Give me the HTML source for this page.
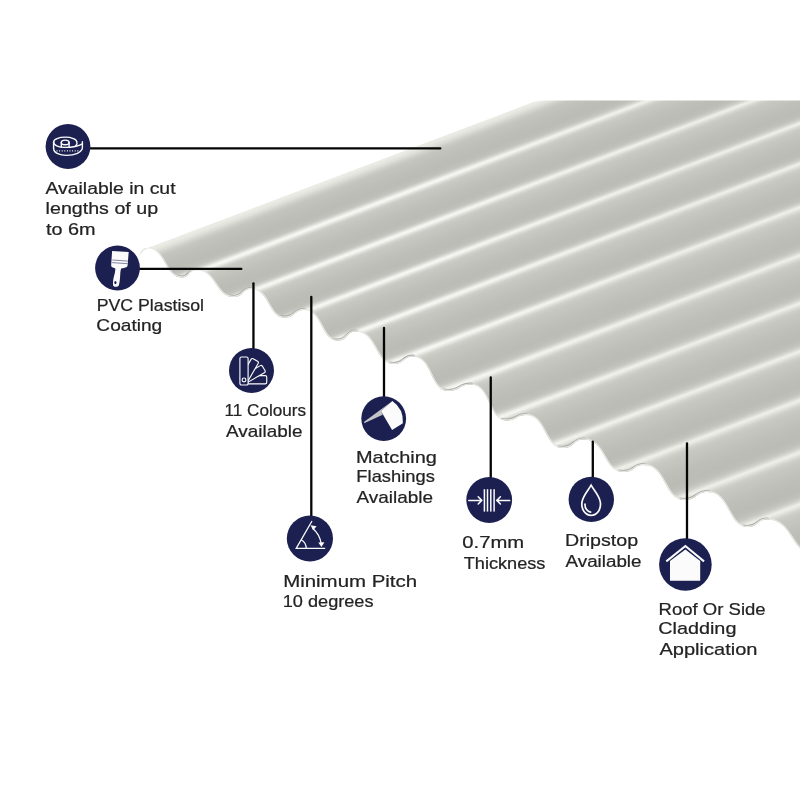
<!DOCTYPE html>
<html><head><meta charset="utf-8"><style>
html,body{margin:0;padding:0;background:#fff;}
body{width:800px;height:800px;position:relative;overflow:hidden;}
svg{position:absolute;left:0;top:0;}
</style></head><body>
<svg width="800" height="800" viewBox="0 0 800 800">
<defs>
<linearGradient id="stripes" gradientUnits="userSpaceOnUse" x1="0" y1="0" x2="398.46" y2="1048.58">
<stop offset="0.2458" stop-color="rgb(236,237,230)"/><stop offset="0.2533" stop-color="rgb(236,237,230)"/><stop offset="0.2537" stop-color="rgb(236,236,230)"/><stop offset="0.2542" stop-color="rgb(235,236,229)"/><stop offset="0.2546" stop-color="rgb(234,236,228)"/><stop offset="0.2550" stop-color="rgb(234,235,228)"/><stop offset="0.2554" stop-color="rgb(234,234,228)"/><stop offset="0.2558" stop-color="rgb(233,234,227)"/><stop offset="0.2562" stop-color="rgb(232,232,226)"/><stop offset="0.2567" stop-color="rgb(230,231,224)"/><stop offset="0.2571" stop-color="rgb(228,230,222)"/><stop offset="0.2575" stop-color="rgb(227,228,221)"/><stop offset="0.2579" stop-color="rgb(226,226,220)"/><stop offset="0.2583" stop-color="rgb(224,225,218)"/><stop offset="0.2587" stop-color="rgb(222,223,216)"/><stop offset="0.2592" stop-color="rgb(219,220,213)"/><stop offset="0.2596" stop-color="rgb(217,218,211)"/><stop offset="0.2600" stop-color="rgb(215,216,209)"/><stop offset="0.2604" stop-color="rgb(212,213,206)"/><stop offset="0.2608" stop-color="rgb(210,211,204)"/><stop offset="0.2612" stop-color="rgb(208,209,202)"/><stop offset="0.2617" stop-color="rgb(206,207,200)"/><stop offset="0.2621" stop-color="rgb(204,206,198)"/><stop offset="0.2625" stop-color="rgb(203,204,197)"/><stop offset="0.2629" stop-color="rgb(201,202,195)"/><stop offset="0.2633" stop-color="rgb(199,200,193)"/><stop offset="0.2637" stop-color="rgb(198,199,192)"/><stop offset="0.2642" stop-color="rgb(197,198,191)"/><stop offset="0.2646" stop-color="rgb(196,198,190)"/><stop offset="0.2650" stop-color="rgb(196,197,190)"/><stop offset="0.2654" stop-color="rgb(195,196,189)"/><stop offset="0.2658" stop-color="rgb(194,195,188)"/><stop offset="0.2671" stop-color="rgb(194,195,188)"/><stop offset="0.2675" stop-color="rgb(193,194,187)"/><stop offset="0.2679" stop-color="rgb(193,194,187)"/><stop offset="0.2683" stop-color="rgb(192,193,186)"/><stop offset="0.2692" stop-color="rgb(192,193,186)"/><stop offset="0.2696" stop-color="rgb(191,192,185)"/><stop offset="0.2704" stop-color="rgb(191,192,185)"/><stop offset="0.2708" stop-color="rgb(190,191,184)"/><stop offset="0.2721" stop-color="rgb(190,191,184)"/><stop offset="0.2725" stop-color="rgb(189,190,183)"/><stop offset="0.2737" stop-color="rgb(189,190,183)"/><stop offset="0.2742" stop-color="rgb(188,189,182)"/><stop offset="0.2767" stop-color="rgb(188,189,182)"/><stop offset="0.2771" stop-color="rgb(187,188,181)"/><stop offset="0.2796" stop-color="rgb(187,188,181)"/><stop offset="0.2800" stop-color="rgb(188,189,182)"/><stop offset="0.2808" stop-color="rgb(188,189,182)"/><stop offset="0.2812" stop-color="rgb(189,190,183)"/><stop offset="0.2817" stop-color="rgb(189,190,183)"/><stop offset="0.2821" stop-color="rgb(190,191,184)"/><stop offset="0.2825" stop-color="rgb(191,192,185)"/><stop offset="0.2829" stop-color="rgb(192,193,186)"/><stop offset="0.2833" stop-color="rgb(193,194,187)"/><stop offset="0.2838" stop-color="rgb(194,195,188)"/><stop offset="0.2842" stop-color="rgb(195,196,189)"/><stop offset="0.2846" stop-color="rgb(197,198,191)"/><stop offset="0.2850" stop-color="rgb(200,201,194)"/><stop offset="0.2854" stop-color="rgb(202,203,196)"/><stop offset="0.2858" stop-color="rgb(206,207,200)"/><stop offset="0.2863" stop-color="rgb(209,210,203)"/><stop offset="0.2867" stop-color="rgb(213,214,207)"/><stop offset="0.2871" stop-color="rgb(218,219,212)"/><stop offset="0.2875" stop-color="rgb(223,224,217)"/><stop offset="0.2879" stop-color="rgb(228,229,222)"/><stop offset="0.2883" stop-color="rgb(233,234,227)"/><stop offset="0.2888" stop-color="rgb(238,239,232)"/><stop offset="0.2892" stop-color="rgb(236,237,230)"/><stop offset="0.2896" stop-color="rgb(234,235,228)"/><stop offset="0.2900" stop-color="rgb(231,232,225)"/><stop offset="0.2904" stop-color="rgb(227,228,221)"/><stop offset="0.2908" stop-color="rgb(223,224,217)"/><stop offset="0.2913" stop-color="rgb(220,220,214)"/><stop offset="0.2917" stop-color="rgb(216,217,210)"/><stop offset="0.2921" stop-color="rgb(212,213,206)"/><stop offset="0.2925" stop-color="rgb(210,211,204)"/><stop offset="0.2929" stop-color="rgb(208,208,202)"/><stop offset="0.2933" stop-color="rgb(205,206,199)"/><stop offset="0.2938" stop-color="rgb(203,204,197)"/><stop offset="0.2942" stop-color="rgb(202,203,196)"/><stop offset="0.2946" stop-color="rgb(201,202,195)"/><stop offset="0.2950" stop-color="rgb(200,201,194)"/><stop offset="0.2954" stop-color="rgb(199,200,193)"/><stop offset="0.2958" stop-color="rgb(199,200,193)"/><stop offset="0.2963" stop-color="rgb(198,199,192)"/><stop offset="0.2967" stop-color="rgb(198,199,192)"/><stop offset="0.2971" stop-color="rgb(197,198,191)"/><stop offset="0.2975" stop-color="rgb(197,198,191)"/><stop offset="0.2979" stop-color="rgb(196,198,190)"/><stop offset="0.2983" stop-color="rgb(196,197,190)"/><stop offset="0.2988" stop-color="rgb(196,197,190)"/><stop offset="0.2992" stop-color="rgb(195,196,189)"/><stop offset="0.3000" stop-color="rgb(195,196,189)"/><stop offset="0.3004" stop-color="rgb(194,195,188)"/><stop offset="0.3008" stop-color="rgb(194,195,188)"/><stop offset="0.3013" stop-color="rgb(194,194,188)"/><stop offset="0.3017" stop-color="rgb(193,194,187)"/><stop offset="0.3021" stop-color="rgb(193,194,187)"/><stop offset="0.3025" stop-color="rgb(192,193,186)"/><stop offset="0.3029" stop-color="rgb(192,193,186)"/><stop offset="0.3033" stop-color="rgb(191,192,185)"/><stop offset="0.3042" stop-color="rgb(191,192,185)"/><stop offset="0.3046" stop-color="rgb(190,192,184)"/><stop offset="0.3050" stop-color="rgb(190,191,184)"/><stop offset="0.3058" stop-color="rgb(190,191,184)"/><stop offset="0.3063" stop-color="rgb(190,190,184)"/><stop offset="0.3067" stop-color="rgb(189,190,183)"/><stop offset="0.3075" stop-color="rgb(189,190,183)"/><stop offset="0.3079" stop-color="rgb(188,190,182)"/><stop offset="0.3083" stop-color="rgb(188,189,182)"/><stop offset="0.3104" stop-color="rgb(188,189,182)"/><stop offset="0.3108" stop-color="rgb(187,188,181)"/><stop offset="0.3133" stop-color="rgb(187,188,181)"/><stop offset="0.3137" stop-color="rgb(188,189,182)"/><stop offset="0.3146" stop-color="rgb(188,189,182)"/><stop offset="0.3150" stop-color="rgb(189,190,183)"/><stop offset="0.3154" stop-color="rgb(189,190,183)"/><stop offset="0.3158" stop-color="rgb(190,191,184)"/><stop offset="0.3162" stop-color="rgb(191,192,185)"/><stop offset="0.3167" stop-color="rgb(192,193,186)"/><stop offset="0.3171" stop-color="rgb(193,194,187)"/><stop offset="0.3175" stop-color="rgb(194,195,188)"/><stop offset="0.3179" stop-color="rgb(197,198,191)"/><stop offset="0.3183" stop-color="rgb(199,200,193)"/><stop offset="0.3187" stop-color="rgb(201,202,195)"/><stop offset="0.3192" stop-color="rgb(205,206,199)"/><stop offset="0.3196" stop-color="rgb(209,210,203)"/><stop offset="0.3200" stop-color="rgb(212,213,206)"/><stop offset="0.3204" stop-color="rgb(217,218,211)"/><stop offset="0.3208" stop-color="rgb(223,224,217)"/><stop offset="0.3212" stop-color="rgb(228,229,222)"/><stop offset="0.3217" stop-color="rgb(233,234,227)"/><stop offset="0.3221" stop-color="rgb(238,239,232)"/><stop offset="0.3225" stop-color="rgb(236,237,230)"/><stop offset="0.3229" stop-color="rgb(234,235,228)"/><stop offset="0.3233" stop-color="rgb(231,232,225)"/><stop offset="0.3237" stop-color="rgb(227,228,221)"/><stop offset="0.3242" stop-color="rgb(223,224,217)"/><stop offset="0.3246" stop-color="rgb(220,221,214)"/><stop offset="0.3250" stop-color="rgb(216,217,210)"/><stop offset="0.3254" stop-color="rgb(212,213,206)"/><stop offset="0.3258" stop-color="rgb(210,211,204)"/><stop offset="0.3262" stop-color="rgb(208,209,202)"/><stop offset="0.3267" stop-color="rgb(206,207,200)"/><stop offset="0.3271" stop-color="rgb(203,204,197)"/><stop offset="0.3275" stop-color="rgb(202,203,196)"/><stop offset="0.3279" stop-color="rgb(201,202,195)"/><stop offset="0.3283" stop-color="rgb(200,201,194)"/><stop offset="0.3287" stop-color="rgb(200,201,194)"/><stop offset="0.3292" stop-color="rgb(199,200,193)"/><stop offset="0.3296" stop-color="rgb(198,199,192)"/><stop offset="0.3300" stop-color="rgb(198,199,192)"/><stop offset="0.3304" stop-color="rgb(197,198,191)"/><stop offset="0.3312" stop-color="rgb(197,198,191)"/><stop offset="0.3317" stop-color="rgb(196,197,190)"/><stop offset="0.3325" stop-color="rgb(196,197,190)"/><stop offset="0.3329" stop-color="rgb(195,196,189)"/><stop offset="0.3333" stop-color="rgb(195,196,189)"/><stop offset="0.3337" stop-color="rgb(194,195,188)"/><stop offset="0.3346" stop-color="rgb(194,195,188)"/><stop offset="0.3350" stop-color="rgb(193,194,187)"/><stop offset="0.3354" stop-color="rgb(193,194,187)"/><stop offset="0.3358" stop-color="rgb(192,193,186)"/><stop offset="0.3367" stop-color="rgb(192,193,186)"/><stop offset="0.3371" stop-color="rgb(191,192,185)"/><stop offset="0.3379" stop-color="rgb(191,192,185)"/><stop offset="0.3383" stop-color="rgb(190,191,184)"/><stop offset="0.3396" stop-color="rgb(190,191,184)"/><stop offset="0.3400" stop-color="rgb(189,190,183)"/><stop offset="0.3412" stop-color="rgb(189,190,183)"/><stop offset="0.3417" stop-color="rgb(188,189,182)"/><stop offset="0.3442" stop-color="rgb(188,189,182)"/><stop offset="0.3446" stop-color="rgb(187,188,181)"/><stop offset="0.3467" stop-color="rgb(187,188,181)"/><stop offset="0.3471" stop-color="rgb(188,189,182)"/><stop offset="0.3483" stop-color="rgb(188,189,182)"/><stop offset="0.3488" stop-color="rgb(189,190,183)"/><stop offset="0.3492" stop-color="rgb(189,190,183)"/><stop offset="0.3496" stop-color="rgb(190,191,184)"/><stop offset="0.3500" stop-color="rgb(191,192,185)"/><stop offset="0.3504" stop-color="rgb(192,193,186)"/><stop offset="0.3508" stop-color="rgb(193,194,187)"/><stop offset="0.3513" stop-color="rgb(195,196,189)"/><stop offset="0.3517" stop-color="rgb(197,198,191)"/><stop offset="0.3521" stop-color="rgb(199,200,193)"/><stop offset="0.3525" stop-color="rgb(201,202,195)"/><stop offset="0.3529" stop-color="rgb(205,206,199)"/><stop offset="0.3533" stop-color="rgb(209,210,203)"/><stop offset="0.3538" stop-color="rgb(212,213,206)"/><stop offset="0.3542" stop-color="rgb(218,219,212)"/><stop offset="0.3546" stop-color="rgb(223,224,217)"/><stop offset="0.3550" stop-color="rgb(228,229,222)"/><stop offset="0.3554" stop-color="rgb(233,234,227)"/><stop offset="0.3558" stop-color="rgb(238,239,232)"/><stop offset="0.3563" stop-color="rgb(236,237,230)"/><stop offset="0.3567" stop-color="rgb(234,235,228)"/><stop offset="0.3571" stop-color="rgb(231,232,225)"/><stop offset="0.3575" stop-color="rgb(227,228,221)"/><stop offset="0.3579" stop-color="rgb(223,224,217)"/><stop offset="0.3583" stop-color="rgb(220,221,214)"/><stop offset="0.3588" stop-color="rgb(216,217,210)"/><stop offset="0.3592" stop-color="rgb(212,213,206)"/><stop offset="0.3596" stop-color="rgb(210,211,204)"/><stop offset="0.3600" stop-color="rgb(208,209,202)"/><stop offset="0.3604" stop-color="rgb(206,207,200)"/><stop offset="0.3608" stop-color="rgb(203,204,197)"/><stop offset="0.3613" stop-color="rgb(202,203,196)"/><stop offset="0.3617" stop-color="rgb(201,202,195)"/><stop offset="0.3621" stop-color="rgb(200,201,194)"/><stop offset="0.3625" stop-color="rgb(200,201,194)"/><stop offset="0.3629" stop-color="rgb(199,200,193)"/><stop offset="0.3633" stop-color="rgb(198,199,192)"/><stop offset="0.3638" stop-color="rgb(198,199,192)"/><stop offset="0.3642" stop-color="rgb(197,198,191)"/><stop offset="0.3650" stop-color="rgb(197,198,191)"/><stop offset="0.3654" stop-color="rgb(196,197,190)"/><stop offset="0.3663" stop-color="rgb(196,197,190)"/><stop offset="0.3667" stop-color="rgb(195,196,189)"/><stop offset="0.3671" stop-color="rgb(195,196,189)"/><stop offset="0.3675" stop-color="rgb(194,195,188)"/><stop offset="0.3683" stop-color="rgb(194,195,188)"/><stop offset="0.3688" stop-color="rgb(193,194,187)"/><stop offset="0.3692" stop-color="rgb(193,194,187)"/><stop offset="0.3696" stop-color="rgb(192,193,186)"/><stop offset="0.3704" stop-color="rgb(192,193,186)"/><stop offset="0.3708" stop-color="rgb(191,192,185)"/><stop offset="0.3717" stop-color="rgb(191,192,185)"/><stop offset="0.3721" stop-color="rgb(190,191,184)"/><stop offset="0.3733" stop-color="rgb(190,191,184)"/><stop offset="0.3738" stop-color="rgb(189,190,183)"/><stop offset="0.3750" stop-color="rgb(189,190,183)"/><stop offset="0.3754" stop-color="rgb(188,189,182)"/><stop offset="0.3779" stop-color="rgb(188,189,182)"/><stop offset="0.3783" stop-color="rgb(187,188,181)"/><stop offset="0.3804" stop-color="rgb(187,188,181)"/><stop offset="0.3808" stop-color="rgb(188,189,182)"/><stop offset="0.3821" stop-color="rgb(188,189,182)"/><stop offset="0.3825" stop-color="rgb(189,190,183)"/><stop offset="0.3829" stop-color="rgb(189,190,183)"/><stop offset="0.3833" stop-color="rgb(190,191,184)"/><stop offset="0.3837" stop-color="rgb(191,192,185)"/><stop offset="0.3842" stop-color="rgb(192,193,186)"/><stop offset="0.3846" stop-color="rgb(193,194,187)"/><stop offset="0.3850" stop-color="rgb(195,196,189)"/><stop offset="0.3854" stop-color="rgb(197,198,191)"/><stop offset="0.3858" stop-color="rgb(199,200,193)"/><stop offset="0.3862" stop-color="rgb(201,202,195)"/><stop offset="0.3867" stop-color="rgb(205,206,199)"/><stop offset="0.3871" stop-color="rgb(209,210,203)"/><stop offset="0.3875" stop-color="rgb(212,213,206)"/><stop offset="0.3879" stop-color="rgb(218,219,212)"/><stop offset="0.3883" stop-color="rgb(223,224,217)"/><stop offset="0.3887" stop-color="rgb(228,229,222)"/><stop offset="0.3892" stop-color="rgb(233,234,227)"/><stop offset="0.3896" stop-color="rgb(238,239,232)"/><stop offset="0.3900" stop-color="rgb(236,237,230)"/><stop offset="0.3904" stop-color="rgb(234,235,228)"/><stop offset="0.3908" stop-color="rgb(232,233,226)"/><stop offset="0.3912" stop-color="rgb(228,229,222)"/><stop offset="0.3917" stop-color="rgb(225,226,219)"/><stop offset="0.3921" stop-color="rgb(221,222,215)"/><stop offset="0.3925" stop-color="rgb(218,219,212)"/><stop offset="0.3929" stop-color="rgb(214,215,208)"/><stop offset="0.3933" stop-color="rgb(211,212,205)"/><stop offset="0.3937" stop-color="rgb(209,210,203)"/><stop offset="0.3942" stop-color="rgb(207,208,201)"/><stop offset="0.3946" stop-color="rgb(205,206,199)"/><stop offset="0.3950" stop-color="rgb(203,204,197)"/><stop offset="0.3954" stop-color="rgb(202,203,196)"/><stop offset="0.3958" stop-color="rgb(201,202,195)"/><stop offset="0.3962" stop-color="rgb(201,202,195)"/><stop offset="0.3967" stop-color="rgb(200,201,194)"/><stop offset="0.3971" stop-color="rgb(199,200,193)"/><stop offset="0.3975" stop-color="rgb(198,199,192)"/><stop offset="0.3979" stop-color="rgb(198,199,192)"/><stop offset="0.3983" stop-color="rgb(197,198,191)"/><stop offset="0.3992" stop-color="rgb(197,198,191)"/><stop offset="0.3996" stop-color="rgb(196,197,190)"/><stop offset="0.4008" stop-color="rgb(196,197,190)"/><stop offset="0.4012" stop-color="rgb(195,196,189)"/><stop offset="0.4021" stop-color="rgb(195,196,189)"/><stop offset="0.4025" stop-color="rgb(194,195,188)"/><stop offset="0.4029" stop-color="rgb(194,195,188)"/><stop offset="0.4033" stop-color="rgb(193,194,187)"/><stop offset="0.4042" stop-color="rgb(193,194,187)"/><stop offset="0.4046" stop-color="rgb(192,193,186)"/><stop offset="0.4050" stop-color="rgb(192,193,186)"/><stop offset="0.4054" stop-color="rgb(191,192,185)"/><stop offset="0.4067" stop-color="rgb(191,192,185)"/><stop offset="0.4071" stop-color="rgb(190,191,184)"/><stop offset="0.4083" stop-color="rgb(190,191,184)"/><stop offset="0.4088" stop-color="rgb(189,190,183)"/><stop offset="0.4104" stop-color="rgb(189,190,183)"/><stop offset="0.4108" stop-color="rgb(188,189,182)"/><stop offset="0.4133" stop-color="rgb(188,189,182)"/><stop offset="0.4138" stop-color="rgb(187,188,181)"/><stop offset="0.4163" stop-color="rgb(187,188,181)"/><stop offset="0.4167" stop-color="rgb(188,189,182)"/><stop offset="0.4175" stop-color="rgb(188,189,182)"/><stop offset="0.4179" stop-color="rgb(189,190,183)"/><stop offset="0.4188" stop-color="rgb(189,190,183)"/><stop offset="0.4192" stop-color="rgb(190,191,184)"/><stop offset="0.4196" stop-color="rgb(191,192,185)"/><stop offset="0.4200" stop-color="rgb(192,193,186)"/><stop offset="0.4204" stop-color="rgb(193,194,187)"/><stop offset="0.4208" stop-color="rgb(194,195,188)"/><stop offset="0.4213" stop-color="rgb(196,197,190)"/><stop offset="0.4217" stop-color="rgb(198,199,192)"/><stop offset="0.4221" stop-color="rgb(200,201,194)"/><stop offset="0.4225" stop-color="rgb(203,204,197)"/><stop offset="0.4229" stop-color="rgb(207,208,201)"/><stop offset="0.4233" stop-color="rgb(210,211,204)"/><stop offset="0.4238" stop-color="rgb(214,215,208)"/><stop offset="0.4242" stop-color="rgb(219,220,213)"/><stop offset="0.4246" stop-color="rgb(224,225,218)"/><stop offset="0.4250" stop-color="rgb(229,230,223)"/><stop offset="0.4254" stop-color="rgb(233,234,227)"/><stop offset="0.4258" stop-color="rgb(238,239,232)"/><stop offset="0.4263" stop-color="rgb(236,237,230)"/><stop offset="0.4267" stop-color="rgb(235,236,229)"/><stop offset="0.4271" stop-color="rgb(233,234,227)"/><stop offset="0.4275" stop-color="rgb(230,230,224)"/><stop offset="0.4279" stop-color="rgb(226,227,220)"/><stop offset="0.4283" stop-color="rgb(223,224,217)"/><stop offset="0.4288" stop-color="rgb(220,221,214)"/><stop offset="0.4292" stop-color="rgb(217,218,211)"/><stop offset="0.4296" stop-color="rgb(214,215,208)"/><stop offset="0.4300" stop-color="rgb(211,212,205)"/><stop offset="0.4304" stop-color="rgb(209,210,203)"/><stop offset="0.4308" stop-color="rgb(208,208,202)"/><stop offset="0.4313" stop-color="rgb(206,207,200)"/><stop offset="0.4317" stop-color="rgb(204,205,198)"/><stop offset="0.4321" stop-color="rgb(203,204,197)"/><stop offset="0.4325" stop-color="rgb(202,203,196)"/><stop offset="0.4329" stop-color="rgb(201,202,195)"/><stop offset="0.4333" stop-color="rgb(200,201,194)"/><stop offset="0.4338" stop-color="rgb(200,201,194)"/><stop offset="0.4342" stop-color="rgb(199,200,193)"/><stop offset="0.4346" stop-color="rgb(198,199,192)"/><stop offset="0.4350" stop-color="rgb(198,199,192)"/><stop offset="0.4354" stop-color="rgb(197,198,191)"/><stop offset="0.4367" stop-color="rgb(197,198,191)"/><stop offset="0.4371" stop-color="rgb(196,197,190)"/><stop offset="0.4379" stop-color="rgb(196,197,190)"/><stop offset="0.4383" stop-color="rgb(195,196,189)"/><stop offset="0.4396" stop-color="rgb(195,196,189)"/><stop offset="0.4400" stop-color="rgb(194,195,188)"/><stop offset="0.4404" stop-color="rgb(194,195,188)"/><stop offset="0.4408" stop-color="rgb(194,194,188)"/><stop offset="0.4412" stop-color="rgb(193,194,187)"/><stop offset="0.4417" stop-color="rgb(193,194,187)"/><stop offset="0.4421" stop-color="rgb(192,193,186)"/><stop offset="0.4429" stop-color="rgb(192,193,186)"/><stop offset="0.4433" stop-color="rgb(191,192,185)"/><stop offset="0.4446" stop-color="rgb(191,192,185)"/><stop offset="0.4450" stop-color="rgb(190,191,184)"/><stop offset="0.4467" stop-color="rgb(190,191,184)"/><stop offset="0.4471" stop-color="rgb(189,190,183)"/><stop offset="0.4487" stop-color="rgb(189,190,183)"/><stop offset="0.4492" stop-color="rgb(188,189,182)"/><stop offset="0.4521" stop-color="rgb(188,189,182)"/><stop offset="0.4525" stop-color="rgb(187,188,181)"/><stop offset="0.4554" stop-color="rgb(187,188,181)"/><stop offset="0.4558" stop-color="rgb(188,189,182)"/><stop offset="0.4567" stop-color="rgb(188,189,182)"/><stop offset="0.4571" stop-color="rgb(189,190,183)"/><stop offset="0.4579" stop-color="rgb(189,190,183)"/><stop offset="0.4583" stop-color="rgb(190,191,184)"/><stop offset="0.4587" stop-color="rgb(191,192,185)"/><stop offset="0.4592" stop-color="rgb(192,193,186)"/><stop offset="0.4596" stop-color="rgb(193,194,187)"/><stop offset="0.4600" stop-color="rgb(194,195,188)"/><stop offset="0.4604" stop-color="rgb(195,196,189)"/><stop offset="0.4608" stop-color="rgb(197,198,191)"/><stop offset="0.4612" stop-color="rgb(198,199,192)"/><stop offset="0.4617" stop-color="rgb(200,201,194)"/><stop offset="0.4621" stop-color="rgb(203,204,197)"/><stop offset="0.4625" stop-color="rgb(206,207,200)"/><stop offset="0.4629" stop-color="rgb(209,210,203)"/><stop offset="0.4633" stop-color="rgb(212,213,206)"/><stop offset="0.4637" stop-color="rgb(216,217,210)"/><stop offset="0.4642" stop-color="rgb(221,222,215)"/><stop offset="0.4646" stop-color="rgb(225,226,219)"/><stop offset="0.4650" stop-color="rgb(230,231,224)"/><stop offset="0.4654" stop-color="rgb(234,235,228)"/><stop offset="0.4658" stop-color="rgb(238,239,232)"/><stop offset="0.4662" stop-color="rgb(236,237,230)"/><stop offset="0.4667" stop-color="rgb(235,236,229)"/><stop offset="0.4671" stop-color="rgb(233,234,227)"/><stop offset="0.4675" stop-color="rgb(230,230,224)"/><stop offset="0.4679" stop-color="rgb(226,227,220)"/><stop offset="0.4683" stop-color="rgb(223,224,217)"/><stop offset="0.4688" stop-color="rgb(220,221,214)"/><stop offset="0.4692" stop-color="rgb(217,218,211)"/><stop offset="0.4696" stop-color="rgb(214,215,208)"/><stop offset="0.4700" stop-color="rgb(211,212,205)"/><stop offset="0.4704" stop-color="rgb(209,210,203)"/><stop offset="0.4708" stop-color="rgb(208,208,202)"/><stop offset="0.4713" stop-color="rgb(206,207,200)"/><stop offset="0.4717" stop-color="rgb(204,205,198)"/><stop offset="0.4721" stop-color="rgb(203,204,197)"/><stop offset="0.4725" stop-color="rgb(202,203,196)"/><stop offset="0.4729" stop-color="rgb(201,202,195)"/><stop offset="0.4733" stop-color="rgb(200,201,194)"/><stop offset="0.4738" stop-color="rgb(200,201,194)"/><stop offset="0.4742" stop-color="rgb(199,200,193)"/><stop offset="0.4746" stop-color="rgb(198,199,192)"/><stop offset="0.4750" stop-color="rgb(198,199,192)"/><stop offset="0.4754" stop-color="rgb(197,198,191)"/><stop offset="0.4767" stop-color="rgb(197,198,191)"/><stop offset="0.4771" stop-color="rgb(196,197,190)"/><stop offset="0.4779" stop-color="rgb(196,197,190)"/><stop offset="0.4783" stop-color="rgb(195,196,189)"/><stop offset="0.4796" stop-color="rgb(195,196,189)"/><stop offset="0.4800" stop-color="rgb(194,195,188)"/><stop offset="0.4804" stop-color="rgb(194,195,188)"/><stop offset="0.4808" stop-color="rgb(194,194,188)"/><stop offset="0.4813" stop-color="rgb(193,194,187)"/><stop offset="0.4817" stop-color="rgb(193,194,187)"/><stop offset="0.4821" stop-color="rgb(192,193,186)"/><stop offset="0.4829" stop-color="rgb(192,193,186)"/><stop offset="0.4833" stop-color="rgb(191,192,185)"/><stop offset="0.4846" stop-color="rgb(191,192,185)"/><stop offset="0.4850" stop-color="rgb(190,191,184)"/><stop offset="0.4867" stop-color="rgb(190,191,184)"/><stop offset="0.4871" stop-color="rgb(189,190,183)"/><stop offset="0.4888" stop-color="rgb(189,190,183)"/><stop offset="0.4892" stop-color="rgb(188,189,182)"/><stop offset="0.4921" stop-color="rgb(188,189,182)"/><stop offset="0.4925" stop-color="rgb(187,188,181)"/><stop offset="0.4954" stop-color="rgb(187,188,181)"/><stop offset="0.4958" stop-color="rgb(188,189,182)"/><stop offset="0.4967" stop-color="rgb(188,189,182)"/><stop offset="0.4971" stop-color="rgb(189,190,183)"/><stop offset="0.4979" stop-color="rgb(189,190,183)"/><stop offset="0.4983" stop-color="rgb(190,191,184)"/><stop offset="0.4988" stop-color="rgb(191,192,185)"/><stop offset="0.4992" stop-color="rgb(192,193,186)"/><stop offset="0.4996" stop-color="rgb(193,194,187)"/><stop offset="0.5000" stop-color="rgb(194,195,188)"/><stop offset="0.5004" stop-color="rgb(195,196,189)"/><stop offset="0.5008" stop-color="rgb(197,198,191)"/><stop offset="0.5012" stop-color="rgb(198,199,192)"/><stop offset="0.5017" stop-color="rgb(200,201,194)"/><stop offset="0.5021" stop-color="rgb(203,204,197)"/><stop offset="0.5025" stop-color="rgb(206,207,200)"/><stop offset="0.5029" stop-color="rgb(209,210,203)"/><stop offset="0.5033" stop-color="rgb(212,213,206)"/><stop offset="0.5038" stop-color="rgb(216,217,210)"/><stop offset="0.5042" stop-color="rgb(221,222,215)"/><stop offset="0.5046" stop-color="rgb(225,226,219)"/><stop offset="0.5050" stop-color="rgb(230,231,224)"/><stop offset="0.5054" stop-color="rgb(234,235,228)"/><stop offset="0.5058" stop-color="rgb(238,239,232)"/><stop offset="0.5062" stop-color="rgb(236,237,230)"/><stop offset="0.5067" stop-color="rgb(235,236,229)"/><stop offset="0.5071" stop-color="rgb(233,234,227)"/><stop offset="0.5075" stop-color="rgb(230,230,224)"/><stop offset="0.5079" stop-color="rgb(226,227,220)"/><stop offset="0.5083" stop-color="rgb(223,224,217)"/><stop offset="0.5088" stop-color="rgb(220,221,214)"/><stop offset="0.5092" stop-color="rgb(217,218,211)"/><stop offset="0.5096" stop-color="rgb(214,215,208)"/><stop offset="0.5100" stop-color="rgb(211,212,205)"/><stop offset="0.5104" stop-color="rgb(209,210,203)"/><stop offset="0.5108" stop-color="rgb(208,208,202)"/><stop offset="0.5112" stop-color="rgb(206,207,200)"/><stop offset="0.5117" stop-color="rgb(204,205,198)"/><stop offset="0.5121" stop-color="rgb(203,204,197)"/><stop offset="0.5125" stop-color="rgb(202,203,196)"/><stop offset="0.5129" stop-color="rgb(201,202,195)"/><stop offset="0.5133" stop-color="rgb(200,201,194)"/><stop offset="0.5138" stop-color="rgb(200,201,194)"/><stop offset="0.5142" stop-color="rgb(199,200,193)"/><stop offset="0.5146" stop-color="rgb(198,199,192)"/><stop offset="0.5150" stop-color="rgb(198,199,192)"/><stop offset="0.5154" stop-color="rgb(197,198,191)"/><stop offset="0.5167" stop-color="rgb(197,198,191)"/><stop offset="0.5171" stop-color="rgb(196,197,190)"/><stop offset="0.5179" stop-color="rgb(196,197,190)"/><stop offset="0.5183" stop-color="rgb(195,196,189)"/><stop offset="0.5196" stop-color="rgb(195,196,189)"/><stop offset="0.5200" stop-color="rgb(194,195,188)"/><stop offset="0.5204" stop-color="rgb(194,195,188)"/><stop offset="0.5208" stop-color="rgb(194,194,188)"/><stop offset="0.5212" stop-color="rgb(193,194,187)"/><stop offset="0.5217" stop-color="rgb(193,194,187)"/><stop offset="0.5221" stop-color="rgb(192,193,186)"/><stop offset="0.5229" stop-color="rgb(192,193,186)"/><stop offset="0.5233" stop-color="rgb(191,192,185)"/><stop offset="0.5246" stop-color="rgb(191,192,185)"/><stop offset="0.5250" stop-color="rgb(190,191,184)"/><stop offset="0.5267" stop-color="rgb(190,191,184)"/><stop offset="0.5271" stop-color="rgb(189,190,183)"/><stop offset="0.5288" stop-color="rgb(189,190,183)"/><stop offset="0.5292" stop-color="rgb(188,189,182)"/><stop offset="0.5321" stop-color="rgb(188,189,182)"/><stop offset="0.5325" stop-color="rgb(187,188,181)"/><stop offset="0.5354" stop-color="rgb(187,188,181)"/><stop offset="0.5358" stop-color="rgb(188,189,182)"/><stop offset="0.5367" stop-color="rgb(188,189,182)"/><stop offset="0.5371" stop-color="rgb(189,190,183)"/><stop offset="0.5379" stop-color="rgb(189,190,183)"/><stop offset="0.5383" stop-color="rgb(190,191,184)"/><stop offset="0.5387" stop-color="rgb(191,192,185)"/><stop offset="0.5392" stop-color="rgb(192,193,186)"/><stop offset="0.5396" stop-color="rgb(193,194,187)"/><stop offset="0.5400" stop-color="rgb(194,195,188)"/><stop offset="0.5404" stop-color="rgb(195,196,189)"/><stop offset="0.5408" stop-color="rgb(197,198,191)"/><stop offset="0.5413" stop-color="rgb(198,199,192)"/><stop offset="0.5417" stop-color="rgb(200,201,194)"/><stop offset="0.5421" stop-color="rgb(203,204,197)"/><stop offset="0.5425" stop-color="rgb(206,207,200)"/><stop offset="0.5429" stop-color="rgb(209,210,203)"/><stop offset="0.5433" stop-color="rgb(212,213,206)"/><stop offset="0.5437" stop-color="rgb(216,217,210)"/><stop offset="0.5442" stop-color="rgb(221,222,215)"/><stop offset="0.5446" stop-color="rgb(225,226,219)"/><stop offset="0.5450" stop-color="rgb(230,231,224)"/><stop offset="0.5454" stop-color="rgb(234,235,228)"/><stop offset="0.5458" stop-color="rgb(238,239,232)"/><stop offset="0.5463" stop-color="rgb(236,237,230)"/><stop offset="0.5467" stop-color="rgb(235,236,229)"/><stop offset="0.5471" stop-color="rgb(233,234,227)"/><stop offset="0.5475" stop-color="rgb(230,231,224)"/><stop offset="0.5479" stop-color="rgb(227,228,221)"/><stop offset="0.5483" stop-color="rgb(224,225,218)"/><stop offset="0.5487" stop-color="rgb(221,222,215)"/><stop offset="0.5492" stop-color="rgb(218,219,212)"/><stop offset="0.5496" stop-color="rgb(214,215,208)"/><stop offset="0.5500" stop-color="rgb(212,213,206)"/><stop offset="0.5504" stop-color="rgb(210,211,204)"/><stop offset="0.5508" stop-color="rgb(208,209,202)"/><stop offset="0.5513" stop-color="rgb(206,207,200)"/><stop offset="0.5517" stop-color="rgb(204,205,198)"/><stop offset="0.5521" stop-color="rgb(203,204,197)"/><stop offset="0.5525" stop-color="rgb(202,203,196)"/><stop offset="0.5529" stop-color="rgb(201,202,195)"/><stop offset="0.5533" stop-color="rgb(201,202,195)"/><stop offset="0.5537" stop-color="rgb(200,201,194)"/><stop offset="0.5542" stop-color="rgb(199,200,193)"/><stop offset="0.5546" stop-color="rgb(198,199,192)"/><stop offset="0.5554" stop-color="rgb(198,199,192)"/><stop offset="0.5558" stop-color="rgb(197,198,191)"/><stop offset="0.5567" stop-color="rgb(197,198,191)"/><stop offset="0.5571" stop-color="rgb(196,197,190)"/><stop offset="0.5583" stop-color="rgb(196,197,190)"/><stop offset="0.5587" stop-color="rgb(195,196,189)"/><stop offset="0.5596" stop-color="rgb(195,196,189)"/><stop offset="0.5600" stop-color="rgb(194,195,188)"/><stop offset="0.5608" stop-color="rgb(194,195,188)"/><stop offset="0.5613" stop-color="rgb(193,194,187)"/><stop offset="0.5621" stop-color="rgb(193,194,187)"/><stop offset="0.5625" stop-color="rgb(192,193,186)"/><stop offset="0.5633" stop-color="rgb(192,193,186)"/><stop offset="0.5637" stop-color="rgb(191,192,185)"/><stop offset="0.5650" stop-color="rgb(191,192,185)"/><stop offset="0.5654" stop-color="rgb(190,191,184)"/><stop offset="0.5671" stop-color="rgb(190,191,184)"/><stop offset="0.5675" stop-color="rgb(189,190,183)"/><stop offset="0.5692" stop-color="rgb(189,190,183)"/><stop offset="0.5696" stop-color="rgb(188,189,182)"/><stop offset="0.5725" stop-color="rgb(188,189,182)"/><stop offset="0.5729" stop-color="rgb(187,188,181)"/><stop offset="0.5758" stop-color="rgb(187,188,181)"/><stop offset="0.5763" stop-color="rgb(188,189,182)"/><stop offset="0.5775" stop-color="rgb(188,189,182)"/><stop offset="0.5779" stop-color="rgb(189,190,183)"/><stop offset="0.5783" stop-color="rgb(189,190,183)"/><stop offset="0.5787" stop-color="rgb(190,191,184)"/><stop offset="0.5792" stop-color="rgb(190,191,184)"/><stop offset="0.5796" stop-color="rgb(191,192,185)"/><stop offset="0.5800" stop-color="rgb(192,193,186)"/><stop offset="0.5804" stop-color="rgb(193,194,187)"/><stop offset="0.5808" stop-color="rgb(194,195,188)"/><stop offset="0.5813" stop-color="rgb(195,196,189)"/><stop offset="0.5817" stop-color="rgb(197,198,191)"/><stop offset="0.5821" stop-color="rgb(199,200,193)"/><stop offset="0.5825" stop-color="rgb(201,202,195)"/><stop offset="0.5829" stop-color="rgb(203,204,197)"/><stop offset="0.5833" stop-color="rgb(207,208,201)"/><stop offset="0.5837" stop-color="rgb(210,211,204)"/><stop offset="0.5842" stop-color="rgb(213,214,207)"/><stop offset="0.5846" stop-color="rgb(217,218,211)"/><stop offset="0.5850" stop-color="rgb(221,222,215)"/><stop offset="0.5854" stop-color="rgb(226,227,220)"/><stop offset="0.5858" stop-color="rgb(230,231,224)"/><stop offset="0.5863" stop-color="rgb(234,235,228)"/><stop offset="0.5867" stop-color="rgb(238,239,232)"/><stop offset="0.5871" stop-color="rgb(236,237,230)"/><stop offset="0.5875" stop-color="rgb(235,236,229)"/><stop offset="0.5879" stop-color="rgb(233,234,227)"/><stop offset="0.5883" stop-color="rgb(230,231,224)"/><stop offset="0.5887" stop-color="rgb(228,229,222)"/><stop offset="0.5892" stop-color="rgb(225,226,219)"/><stop offset="0.5896" stop-color="rgb(222,223,216)"/><stop offset="0.5900" stop-color="rgb(219,220,213)"/><stop offset="0.5904" stop-color="rgb(216,217,210)"/><stop offset="0.5908" stop-color="rgb(213,214,207)"/><stop offset="0.5913" stop-color="rgb(211,212,205)"/><stop offset="0.5917" stop-color="rgb(209,210,203)"/><stop offset="0.5921" stop-color="rgb(208,208,202)"/><stop offset="0.5925" stop-color="rgb(206,207,200)"/><stop offset="0.5929" stop-color="rgb(204,205,198)"/><stop offset="0.5933" stop-color="rgb(203,204,197)"/><stop offset="0.5938" stop-color="rgb(202,203,196)"/><stop offset="0.5942" stop-color="rgb(201,202,195)"/><stop offset="0.5946" stop-color="rgb(201,202,195)"/><stop offset="0.5950" stop-color="rgb(200,201,194)"/><stop offset="0.5954" stop-color="rgb(199,200,193)"/><stop offset="0.5958" stop-color="rgb(199,200,193)"/><stop offset="0.5962" stop-color="rgb(198,199,192)"/><stop offset="0.5967" stop-color="rgb(198,199,192)"/><stop offset="0.5971" stop-color="rgb(197,198,191)"/><stop offset="0.5983" stop-color="rgb(197,198,191)"/><stop offset="0.5988" stop-color="rgb(196,197,190)"/><stop offset="0.6000" stop-color="rgb(196,197,190)"/><stop offset="0.6004" stop-color="rgb(195,196,189)"/><stop offset="0.6012" stop-color="rgb(195,196,189)"/><stop offset="0.6017" stop-color="rgb(194,195,188)"/><stop offset="0.6025" stop-color="rgb(194,195,188)"/><stop offset="0.6029" stop-color="rgb(194,194,188)"/><stop offset="0.6033" stop-color="rgb(193,194,187)"/><stop offset="0.6042" stop-color="rgb(193,194,187)"/><stop offset="0.6046" stop-color="rgb(192,193,186)"/><stop offset="0.6054" stop-color="rgb(192,193,186)"/><stop offset="0.6058" stop-color="rgb(191,192,185)"/><stop offset="0.6071" stop-color="rgb(191,192,185)"/><stop offset="0.6075" stop-color="rgb(190,191,184)"/><stop offset="0.6092" stop-color="rgb(190,191,184)"/><stop offset="0.6096" stop-color="rgb(189,190,183)"/><stop offset="0.6112" stop-color="rgb(189,190,183)"/><stop offset="0.6117" stop-color="rgb(188,189,182)"/><stop offset="0.6150" stop-color="rgb(188,189,182)"/><stop offset="0.6154" stop-color="rgb(187,188,181)"/><stop offset="0.6183" stop-color="rgb(187,188,181)"/><stop offset="0.6188" stop-color="rgb(188,189,182)"/><stop offset="0.6204" stop-color="rgb(188,189,182)"/><stop offset="0.6208" stop-color="rgb(189,190,183)"/><stop offset="0.6212" stop-color="rgb(189,190,183)"/><stop offset="0.6217" stop-color="rgb(190,191,184)"/><stop offset="0.6221" stop-color="rgb(190,191,184)"/><stop offset="0.6225" stop-color="rgb(191,192,185)"/><stop offset="0.6229" stop-color="rgb(192,193,186)"/><stop offset="0.6233" stop-color="rgb(193,194,187)"/><stop offset="0.6238" stop-color="rgb(194,195,188)"/><stop offset="0.6242" stop-color="rgb(195,196,189)"/><stop offset="0.6246" stop-color="rgb(197,198,191)"/><stop offset="0.6250" stop-color="rgb(198,199,192)"/><stop offset="0.6254" stop-color="rgb(200,201,194)"/><stop offset="0.6258" stop-color="rgb(202,203,196)"/><stop offset="0.6262" stop-color="rgb(205,206,199)"/><stop offset="0.6267" stop-color="rgb(208,209,202)"/><stop offset="0.6271" stop-color="rgb(211,212,205)"/><stop offset="0.6275" stop-color="rgb(214,215,208)"/><stop offset="0.6279" stop-color="rgb(218,219,212)"/><stop offset="0.6283" stop-color="rgb(222,223,216)"/><stop offset="0.6288" stop-color="rgb(226,227,220)"/><stop offset="0.6292" stop-color="rgb(230,231,224)"/><stop offset="0.6296" stop-color="rgb(234,235,228)"/><stop offset="0.6300" stop-color="rgb(238,239,232)"/><stop offset="0.6304" stop-color="rgb(236,237,230)"/><stop offset="0.6308" stop-color="rgb(235,236,229)"/><stop offset="0.6312" stop-color="rgb(233,234,227)"/><stop offset="0.6317" stop-color="rgb(230,231,224)"/><stop offset="0.6321" stop-color="rgb(228,229,222)"/><stop offset="0.6325" stop-color="rgb(225,226,219)"/><stop offset="0.6329" stop-color="rgb(222,223,216)"/><stop offset="0.6333" stop-color="rgb(219,220,213)"/><stop offset="0.6338" stop-color="rgb(216,217,210)"/><stop offset="0.6342" stop-color="rgb(213,214,207)"/><stop offset="0.6346" stop-color="rgb(211,212,205)"/><stop offset="0.6350" stop-color="rgb(209,210,203)"/><stop offset="0.6354" stop-color="rgb(208,208,202)"/><stop offset="0.6358" stop-color="rgb(206,207,200)"/><stop offset="0.6362" stop-color="rgb(204,205,198)"/><stop offset="0.6367" stop-color="rgb(203,204,197)"/><stop offset="0.6371" stop-color="rgb(202,203,196)"/><stop offset="0.6375" stop-color="rgb(201,202,195)"/><stop offset="0.6379" stop-color="rgb(201,202,195)"/><stop offset="0.6383" stop-color="rgb(200,201,194)"/><stop offset="0.6388" stop-color="rgb(199,200,193)"/><stop offset="0.6392" stop-color="rgb(199,200,193)"/><stop offset="0.6396" stop-color="rgb(198,199,192)"/><stop offset="0.6400" stop-color="rgb(198,199,192)"/><stop offset="0.6404" stop-color="rgb(197,198,191)"/><stop offset="0.6417" stop-color="rgb(197,198,191)"/><stop offset="0.6421" stop-color="rgb(196,197,190)"/><stop offset="0.6433" stop-color="rgb(196,197,190)"/><stop offset="0.6438" stop-color="rgb(195,196,189)"/><stop offset="0.6446" stop-color="rgb(195,196,189)"/><stop offset="0.6450" stop-color="rgb(194,195,188)"/><stop offset="0.6458" stop-color="rgb(194,195,188)"/><stop offset="0.6462" stop-color="rgb(194,194,188)"/><stop offset="0.6467" stop-color="rgb(193,194,187)"/><stop offset="0.6475" stop-color="rgb(193,194,187)"/><stop offset="0.6479" stop-color="rgb(192,193,186)"/><stop offset="0.6488" stop-color="rgb(192,193,186)"/><stop offset="0.6492" stop-color="rgb(191,192,185)"/><stop offset="0.6504" stop-color="rgb(191,192,185)"/><stop offset="0.6508" stop-color="rgb(190,191,184)"/><stop offset="0.6525" stop-color="rgb(190,191,184)"/><stop offset="0.6529" stop-color="rgb(189,190,183)"/><stop offset="0.6546" stop-color="rgb(189,190,183)"/><stop offset="0.6550" stop-color="rgb(188,189,182)"/><stop offset="0.6583" stop-color="rgb(188,189,182)"/><stop offset="0.6587" stop-color="rgb(187,188,181)"/><stop offset="0.6617" stop-color="rgb(187,188,181)"/><stop offset="0.6621" stop-color="rgb(188,189,182)"/><stop offset="0.6637" stop-color="rgb(188,189,182)"/><stop offset="0.6642" stop-color="rgb(189,190,183)"/><stop offset="0.6646" stop-color="rgb(189,190,183)"/><stop offset="0.6650" stop-color="rgb(190,191,184)"/><stop offset="0.6654" stop-color="rgb(190,191,184)"/><stop offset="0.6658" stop-color="rgb(191,192,185)"/><stop offset="0.6663" stop-color="rgb(192,193,186)"/><stop offset="0.6667" stop-color="rgb(193,194,187)"/><stop offset="0.6671" stop-color="rgb(194,195,188)"/><stop offset="0.6675" stop-color="rgb(195,196,189)"/><stop offset="0.6679" stop-color="rgb(197,198,191)"/><stop offset="0.6683" stop-color="rgb(198,199,192)"/><stop offset="0.6687" stop-color="rgb(200,201,194)"/><stop offset="0.6692" stop-color="rgb(202,203,196)"/><stop offset="0.6696" stop-color="rgb(205,206,199)"/><stop offset="0.6700" stop-color="rgb(208,209,202)"/><stop offset="0.6704" stop-color="rgb(211,212,205)"/><stop offset="0.6708" stop-color="rgb(214,215,208)"/><stop offset="0.6713" stop-color="rgb(218,219,212)"/><stop offset="0.6717" stop-color="rgb(222,223,216)"/><stop offset="0.6721" stop-color="rgb(226,227,220)"/><stop offset="0.6725" stop-color="rgb(230,231,224)"/><stop offset="0.6729" stop-color="rgb(234,235,228)"/><stop offset="0.6733" stop-color="rgb(238,239,232)"/><stop offset="0.6737" stop-color="rgb(236,237,230)"/><stop offset="0.6742" stop-color="rgb(235,236,229)"/><stop offset="0.6746" stop-color="rgb(233,234,227)"/><stop offset="0.6750" stop-color="rgb(231,232,225)"/><stop offset="0.6754" stop-color="rgb(228,229,222)"/><stop offset="0.6758" stop-color="rgb(225,226,219)"/><stop offset="0.6763" stop-color="rgb(223,224,217)"/><stop offset="0.6767" stop-color="rgb(220,221,214)"/><stop offset="0.6771" stop-color="rgb(217,218,211)"/><stop offset="0.6775" stop-color="rgb(214,215,208)"/><stop offset="0.6779" stop-color="rgb(212,213,206)"/><stop offset="0.6783" stop-color="rgb(210,211,204)"/><stop offset="0.6787" stop-color="rgb(208,209,202)"/><stop offset="0.6792" stop-color="rgb(207,208,201)"/><stop offset="0.6796" stop-color="rgb(205,206,199)"/><stop offset="0.6800" stop-color="rgb(203,204,197)"/><stop offset="0.6804" stop-color="rgb(202,203,196)"/><stop offset="0.6808" stop-color="rgb(202,203,196)"/><stop offset="0.6813" stop-color="rgb(201,202,195)"/><stop offset="0.6817" stop-color="rgb(200,201,194)"/><stop offset="0.6821" stop-color="rgb(200,201,194)"/><stop offset="0.6825" stop-color="rgb(199,200,193)"/><stop offset="0.6829" stop-color="rgb(199,200,193)"/><stop offset="0.6833" stop-color="rgb(198,199,192)"/><stop offset="0.6837" stop-color="rgb(198,199,192)"/><stop offset="0.6842" stop-color="rgb(197,198,191)"/><stop offset="0.6854" stop-color="rgb(197,198,191)"/><stop offset="0.6858" stop-color="rgb(196,197,190)"/><stop offset="0.6871" stop-color="rgb(196,197,190)"/><stop offset="0.6875" stop-color="rgb(195,196,189)"/><stop offset="0.6887" stop-color="rgb(195,196,189)"/><stop offset="0.6892" stop-color="rgb(194,195,188)"/><stop offset="0.6900" stop-color="rgb(194,195,188)"/><stop offset="0.6904" stop-color="rgb(193,194,187)"/><stop offset="0.6913" stop-color="rgb(193,194,187)"/><stop offset="0.6917" stop-color="rgb(192,193,186)"/><stop offset="0.6925" stop-color="rgb(192,193,186)"/><stop offset="0.6929" stop-color="rgb(191,192,185)"/><stop offset="0.6946" stop-color="rgb(191,192,185)"/><stop offset="0.6950" stop-color="rgb(190,191,184)"/><stop offset="0.6967" stop-color="rgb(190,191,184)"/><stop offset="0.6971" stop-color="rgb(189,190,183)"/><stop offset="0.6992" stop-color="rgb(189,190,183)"/><stop offset="0.6996" stop-color="rgb(188,189,182)"/><stop offset="0.7029" stop-color="rgb(188,189,182)"/><stop offset="0.7033" stop-color="rgb(187,188,181)"/><stop offset="0.7063" stop-color="rgb(187,188,181)"/><stop offset="0.7067" stop-color="rgb(188,189,182)"/><stop offset="0.7083" stop-color="rgb(188,189,182)"/><stop offset="0.7087" stop-color="rgb(189,190,183)"/><stop offset="0.7096" stop-color="rgb(189,190,183)"/><stop offset="0.7100" stop-color="rgb(190,191,184)"/><stop offset="0.7104" stop-color="rgb(191,192,185)"/><stop offset="0.7108" stop-color="rgb(192,193,186)"/><stop offset="0.7113" stop-color="rgb(193,194,187)"/><stop offset="0.7117" stop-color="rgb(193,194,187)"/><stop offset="0.7121" stop-color="rgb(194,195,188)"/><stop offset="0.7125" stop-color="rgb(196,197,190)"/><stop offset="0.7129" stop-color="rgb(197,198,191)"/><stop offset="0.7133" stop-color="rgb(199,200,193)"/><stop offset="0.7137" stop-color="rgb(201,202,195)"/><stop offset="0.7142" stop-color="rgb(203,204,197)"/><stop offset="0.7146" stop-color="rgb(206,207,200)"/><stop offset="0.7150" stop-color="rgb(209,210,203)"/><stop offset="0.7154" stop-color="rgb(212,213,206)"/><stop offset="0.7158" stop-color="rgb(215,216,209)"/><stop offset="0.7163" stop-color="rgb(219,220,213)"/><stop offset="0.7167" stop-color="rgb(223,224,217)"/><stop offset="0.7171" stop-color="rgb(227,228,221)"/><stop offset="0.7175" stop-color="rgb(231,232,225)"/><stop offset="0.7179" stop-color="rgb(234,235,228)"/><stop offset="0.7183" stop-color="rgb(238,239,232)"/><stop offset="0.7188" stop-color="rgb(237,238,231)"/><stop offset="0.7192" stop-color="rgb(235,236,229)"/><stop offset="0.7196" stop-color="rgb(234,235,228)"/><stop offset="0.7200" stop-color="rgb(231,232,225)"/><stop offset="0.7204" stop-color="rgb(229,230,223)"/><stop offset="0.7208" stop-color="rgb(226,227,220)"/><stop offset="0.7212" stop-color="rgb(223,224,217)"/><stop offset="0.7217" stop-color="rgb(221,222,215)"/><stop offset="0.7221" stop-color="rgb(218,219,212)"/><stop offset="0.7225" stop-color="rgb(215,216,209)"/><stop offset="0.7229" stop-color="rgb(213,214,207)"/><stop offset="0.7233" stop-color="rgb(211,212,205)"/><stop offset="0.7238" stop-color="rgb(209,210,203)"/><stop offset="0.7242" stop-color="rgb(208,208,202)"/><stop offset="0.7246" stop-color="rgb(206,207,200)"/><stop offset="0.7250" stop-color="rgb(204,205,198)"/><stop offset="0.7254" stop-color="rgb(203,204,197)"/><stop offset="0.7258" stop-color="rgb(202,203,196)"/><stop offset="0.7262" stop-color="rgb(202,203,196)"/><stop offset="0.7267" stop-color="rgb(201,202,195)"/><stop offset="0.7271" stop-color="rgb(200,201,194)"/><stop offset="0.7275" stop-color="rgb(200,201,194)"/><stop offset="0.7279" stop-color="rgb(199,200,193)"/><stop offset="0.7283" stop-color="rgb(198,199,192)"/><stop offset="0.7292" stop-color="rgb(198,199,192)"/><stop offset="0.7296" stop-color="rgb(197,198,191)"/><stop offset="0.7308" stop-color="rgb(197,198,191)"/><stop offset="0.7312" stop-color="rgb(196,197,190)"/><stop offset="0.7325" stop-color="rgb(196,197,190)"/><stop offset="0.7329" stop-color="rgb(195,196,189)"/><stop offset="0.7342" stop-color="rgb(195,196,189)"/><stop offset="0.7346" stop-color="rgb(194,195,188)"/><stop offset="0.7354" stop-color="rgb(194,195,188)"/><stop offset="0.7358" stop-color="rgb(194,194,188)"/><stop offset="0.7362" stop-color="rgb(193,194,187)"/><stop offset="0.7371" stop-color="rgb(193,194,187)"/><stop offset="0.7375" stop-color="rgb(192,193,186)"/><stop offset="0.7383" stop-color="rgb(192,193,186)"/><stop offset="0.7388" stop-color="rgb(191,192,185)"/><stop offset="0.7404" stop-color="rgb(191,192,185)"/><stop offset="0.7408" stop-color="rgb(190,191,184)"/><stop offset="0.7425" stop-color="rgb(190,191,184)"/><stop offset="0.7429" stop-color="rgb(189,190,183)"/><stop offset="0.7450" stop-color="rgb(189,190,183)"/><stop offset="0.7454" stop-color="rgb(188,189,182)"/><stop offset="0.7488" stop-color="rgb(188,189,182)"/><stop offset="0.7492" stop-color="rgb(187,188,181)"/><stop offset="0.7525" stop-color="rgb(187,188,181)"/><stop offset="0.7529" stop-color="rgb(188,189,182)"/><stop offset="0.7546" stop-color="rgb(188,189,182)"/><stop offset="0.7550" stop-color="rgb(189,190,183)"/><stop offset="0.7558" stop-color="rgb(189,190,183)"/><stop offset="0.7562" stop-color="rgb(190,191,184)"/><stop offset="0.7567" stop-color="rgb(191,192,185)"/><stop offset="0.7571" stop-color="rgb(192,193,186)"/><stop offset="0.7575" stop-color="rgb(192,193,186)"/><stop offset="0.7579" stop-color="rgb(193,194,187)"/><stop offset="0.7583" stop-color="rgb(194,195,188)"/><stop offset="0.7588" stop-color="rgb(195,196,189)"/><stop offset="0.7592" stop-color="rgb(197,198,191)"/><stop offset="0.7596" stop-color="rgb(198,199,192)"/><stop offset="0.7600" stop-color="rgb(200,201,194)"/><stop offset="0.7604" stop-color="rgb(202,203,196)"/><stop offset="0.7608" stop-color="rgb(204,205,198)"/><stop offset="0.7612" stop-color="rgb(207,208,201)"/><stop offset="0.7617" stop-color="rgb(210,211,204)"/><stop offset="0.7621" stop-color="rgb(212,213,206)"/><stop offset="0.7625" stop-color="rgb(216,217,210)"/><stop offset="0.7629" stop-color="rgb(220,221,214)"/><stop offset="0.7633" stop-color="rgb(224,225,218)"/><stop offset="0.7638" stop-color="rgb(227,228,221)"/><stop offset="0.7642" stop-color="rgb(231,232,225)"/><stop offset="0.7646" stop-color="rgb(234,235,228)"/><stop offset="0.7650" stop-color="rgb(238,239,232)"/><stop offset="0.7708" stop-color="rgb(238,239,232)"/>
</linearGradient>
<linearGradient id="hl" gradientUnits="userSpaceOnUse" x1="0" y1="0" x2="398.46" y2="1048.58"><stop offset="0.2839" stop-color="#fff" stop-opacity="0.00"/><stop offset="0.2856" stop-color="#fff" stop-opacity="0.10"/><stop offset="0.2870" stop-color="#fff" stop-opacity="0.28"/><stop offset="0.2881" stop-color="#fff" stop-opacity="0.45"/><stop offset="0.2888" stop-color="#fff" stop-opacity="0.50"/><stop offset="0.2894" stop-color="#fff" stop-opacity="0.45"/><stop offset="0.2905" stop-color="#fff" stop-opacity="0.28"/><stop offset="0.2919" stop-color="#fff" stop-opacity="0.10"/><stop offset="0.2936" stop-color="#fff" stop-opacity="0.00"/><stop offset="0.3174" stop-color="#fff" stop-opacity="0.00"/><stop offset="0.3191" stop-color="#fff" stop-opacity="0.10"/><stop offset="0.3204" stop-color="#fff" stop-opacity="0.28"/><stop offset="0.3214" stop-color="#fff" stop-opacity="0.45"/><stop offset="0.3221" stop-color="#fff" stop-opacity="0.50"/><stop offset="0.3228" stop-color="#fff" stop-opacity="0.45"/><stop offset="0.3237" stop-color="#fff" stop-opacity="0.28"/><stop offset="0.3251" stop-color="#fff" stop-opacity="0.10"/><stop offset="0.3268" stop-color="#fff" stop-opacity="0.00"/><stop offset="0.3511" stop-color="#fff" stop-opacity="0.00"/><stop offset="0.3528" stop-color="#fff" stop-opacity="0.10"/><stop offset="0.3541" stop-color="#fff" stop-opacity="0.28"/><stop offset="0.3552" stop-color="#fff" stop-opacity="0.45"/><stop offset="0.3558" stop-color="#fff" stop-opacity="0.50"/><stop offset="0.3565" stop-color="#fff" stop-opacity="0.45"/><stop offset="0.3575" stop-color="#fff" stop-opacity="0.28"/><stop offset="0.3589" stop-color="#fff" stop-opacity="0.10"/><stop offset="0.3606" stop-color="#fff" stop-opacity="0.00"/><stop offset="0.3849" stop-color="#fff" stop-opacity="0.00"/><stop offset="0.3865" stop-color="#fff" stop-opacity="0.10"/><stop offset="0.3879" stop-color="#fff" stop-opacity="0.28"/><stop offset="0.3889" stop-color="#fff" stop-opacity="0.45"/><stop offset="0.3896" stop-color="#fff" stop-opacity="0.50"/><stop offset="0.3903" stop-color="#fff" stop-opacity="0.45"/><stop offset="0.3913" stop-color="#fff" stop-opacity="0.28"/><stop offset="0.3926" stop-color="#fff" stop-opacity="0.10"/><stop offset="0.3943" stop-color="#fff" stop-opacity="0.00"/><stop offset="0.4208" stop-color="#fff" stop-opacity="0.00"/><stop offset="0.4226" stop-color="#fff" stop-opacity="0.10"/><stop offset="0.4240" stop-color="#fff" stop-opacity="0.28"/><stop offset="0.4251" stop-color="#fff" stop-opacity="0.45"/><stop offset="0.4258" stop-color="#fff" stop-opacity="0.50"/><stop offset="0.4266" stop-color="#fff" stop-opacity="0.45"/><stop offset="0.4276" stop-color="#fff" stop-opacity="0.28"/><stop offset="0.4291" stop-color="#fff" stop-opacity="0.10"/><stop offset="0.4309" stop-color="#fff" stop-opacity="0.00"/><stop offset="0.4602" stop-color="#fff" stop-opacity="0.00"/><stop offset="0.4622" stop-color="#fff" stop-opacity="0.10"/><stop offset="0.4638" stop-color="#fff" stop-opacity="0.28"/><stop offset="0.4650" stop-color="#fff" stop-opacity="0.45"/><stop offset="0.4658" stop-color="#fff" stop-opacity="0.50"/><stop offset="0.4666" stop-color="#fff" stop-opacity="0.45"/><stop offset="0.4678" stop-color="#fff" stop-opacity="0.28"/><stop offset="0.4694" stop-color="#fff" stop-opacity="0.10"/><stop offset="0.4714" stop-color="#fff" stop-opacity="0.00"/><stop offset="0.5002" stop-color="#fff" stop-opacity="0.00"/><stop offset="0.5022" stop-color="#fff" stop-opacity="0.10"/><stop offset="0.5038" stop-color="#fff" stop-opacity="0.28"/><stop offset="0.5050" stop-color="#fff" stop-opacity="0.45"/><stop offset="0.5058" stop-color="#fff" stop-opacity="0.50"/><stop offset="0.5066" stop-color="#fff" stop-opacity="0.45"/><stop offset="0.5078" stop-color="#fff" stop-opacity="0.28"/><stop offset="0.5094" stop-color="#fff" stop-opacity="0.10"/><stop offset="0.5114" stop-color="#fff" stop-opacity="0.00"/><stop offset="0.5402" stop-color="#fff" stop-opacity="0.00"/><stop offset="0.5422" stop-color="#fff" stop-opacity="0.10"/><stop offset="0.5438" stop-color="#fff" stop-opacity="0.28"/><stop offset="0.5450" stop-color="#fff" stop-opacity="0.45"/><stop offset="0.5458" stop-color="#fff" stop-opacity="0.50"/><stop offset="0.5466" stop-color="#fff" stop-opacity="0.45"/><stop offset="0.5478" stop-color="#fff" stop-opacity="0.28"/><stop offset="0.5494" stop-color="#fff" stop-opacity="0.10"/><stop offset="0.5514" stop-color="#fff" stop-opacity="0.00"/><stop offset="0.5809" stop-color="#fff" stop-opacity="0.00"/><stop offset="0.5830" stop-color="#fff" stop-opacity="0.10"/><stop offset="0.5846" stop-color="#fff" stop-opacity="0.28"/><stop offset="0.5858" stop-color="#fff" stop-opacity="0.45"/><stop offset="0.5867" stop-color="#fff" stop-opacity="0.50"/><stop offset="0.5875" stop-color="#fff" stop-opacity="0.45"/><stop offset="0.5887" stop-color="#fff" stop-opacity="0.28"/><stop offset="0.5903" stop-color="#fff" stop-opacity="0.10"/><stop offset="0.5924" stop-color="#fff" stop-opacity="0.00"/><stop offset="0.6239" stop-color="#fff" stop-opacity="0.00"/><stop offset="0.6261" stop-color="#fff" stop-opacity="0.10"/><stop offset="0.6278" stop-color="#fff" stop-opacity="0.28"/><stop offset="0.6291" stop-color="#fff" stop-opacity="0.45"/><stop offset="0.6300" stop-color="#fff" stop-opacity="0.50"/><stop offset="0.6309" stop-color="#fff" stop-opacity="0.45"/><stop offset="0.6322" stop-color="#fff" stop-opacity="0.28"/><stop offset="0.6339" stop-color="#fff" stop-opacity="0.10"/><stop offset="0.6361" stop-color="#fff" stop-opacity="0.00"/><stop offset="0.6673" stop-color="#fff" stop-opacity="0.00"/><stop offset="0.6694" stop-color="#fff" stop-opacity="0.10"/><stop offset="0.6712" stop-color="#fff" stop-opacity="0.28"/><stop offset="0.6725" stop-color="#fff" stop-opacity="0.45"/><stop offset="0.6733" stop-color="#fff" stop-opacity="0.50"/><stop offset="0.6742" stop-color="#fff" stop-opacity="0.45"/><stop offset="0.6755" stop-color="#fff" stop-opacity="0.28"/><stop offset="0.6772" stop-color="#fff" stop-opacity="0.10"/><stop offset="0.6794" stop-color="#fff" stop-opacity="0.00"/><stop offset="0.7120" stop-color="#fff" stop-opacity="0.00"/><stop offset="0.7143" stop-color="#fff" stop-opacity="0.10"/><stop offset="0.7161" stop-color="#fff" stop-opacity="0.28"/><stop offset="0.7174" stop-color="#fff" stop-opacity="0.45"/><stop offset="0.7183" stop-color="#fff" stop-opacity="0.50"/><stop offset="0.7192" stop-color="#fff" stop-opacity="0.45"/><stop offset="0.7206" stop-color="#fff" stop-opacity="0.28"/><stop offset="0.7224" stop-color="#fff" stop-opacity="0.10"/><stop offset="0.7246" stop-color="#fff" stop-opacity="0.00"/><stop offset="0.7585" stop-color="#fff" stop-opacity="0.00"/><stop offset="0.7608" stop-color="#fff" stop-opacity="0.10"/><stop offset="0.7627" stop-color="#fff" stop-opacity="0.28"/><stop offset="0.7641" stop-color="#fff" stop-opacity="0.45"/><stop offset="0.7650" stop-color="#fff" stop-opacity="0.50"/><stop offset="0.7659" stop-color="#fff" stop-opacity="0.45"/><stop offset="0.7673" stop-color="#fff" stop-opacity="0.28"/><stop offset="0.7692" stop-color="#fff" stop-opacity="0.10"/><stop offset="0.7715" stop-color="#fff" stop-opacity="0.00"/></linearGradient>
<linearGradient id="hmg" gradientUnits="userSpaceOnUse" x1="150" y1="0" x2="800" y2="0"><stop offset="0" stop-color="#fff"/><stop offset="0.42" stop-color="#fff"/><stop offset="0.85" stop-color="#000"/></linearGradient>
<mask id="hm" maskUnits="userSpaceOnUse" x="0" y="0" width="800" height="800"><rect x="0" y="0" width="800" height="800" fill="url(#hmg)"/></mask>
<clipPath id="sheetclip"><path d="M138.5,257.5 C140.5,252.5 141.6,248.0 146.6,248.0 C166.0,248.0 164.2,277.5 181.8,277.5 C190.3,277.5 188.2,270.0 196.0,270.0 C216.6,270.0 214.8,297.0 233.5,297.0 C244.0,297.0 241.4,289.0 251.0,289.0 C269.4,289.0 267.8,317.6 284.5,317.6 C296.2,317.6 293.3,310.0 304.0,310.0 C322.4,310.0 320.8,340.6 337.5,340.6 C348.6,340.6 345.8,331.5 356.0,331.5 C376.6,331.5 374.8,364.0 393.5,364.0 C405.2,364.0 402.3,356.6 413.0,356.6 C432.0,356.6 430.2,391.0 447.5,391.0 C461.6,391.0 458.1,384.6 471.0,384.6 C490.2,384.6 488.5,420.5 506.0,420.5 C518.0,420.5 515.0,415.0 526.0,415.0 C546.1,415.0 544.2,448.0 562.5,448.0 C575.4,448.0 572.2,439.5 584.0,439.5 C605.5,439.5 603.5,472.0 623.0,472.0 C635.6,472.0 632.5,465.0 644.0,465.0 C666.0,465.0 664.0,500.0 684.0,500.0 C698.4,500.0 694.8,492.0 708.0,492.0 C729.7,492.0 727.8,527.0 747.5,527.0 C759.2,527.0 756.3,519.5 767.0,519.5 C793.4,519.5 791.0,555.0 815.0,555.0 C825.8,555.0 823.1,548.0 833.0,548.0 L860,560 L860,100.4 L545,100.4 C540,100.6 536,101.2 532,102.6 L149.6,247.2 C144.6,249.0 139.5,254.5 138.5,257.5 Z"/></clipPath>
</defs>
<path d="M138.5,257.5 C140.5,252.5 141.6,248.0 146.6,248.0 C166.0,248.0 164.2,277.5 181.8,277.5 C190.3,277.5 188.2,270.0 196.0,270.0 C216.6,270.0 214.8,297.0 233.5,297.0 C244.0,297.0 241.4,289.0 251.0,289.0 C269.4,289.0 267.8,317.6 284.5,317.6 C296.2,317.6 293.3,310.0 304.0,310.0 C322.4,310.0 320.8,340.6 337.5,340.6 C348.6,340.6 345.8,331.5 356.0,331.5 C376.6,331.5 374.8,364.0 393.5,364.0 C405.2,364.0 402.3,356.6 413.0,356.6 C432.0,356.6 430.2,391.0 447.5,391.0 C461.6,391.0 458.1,384.6 471.0,384.6 C490.2,384.6 488.5,420.5 506.0,420.5 C518.0,420.5 515.0,415.0 526.0,415.0 C546.1,415.0 544.2,448.0 562.5,448.0 C575.4,448.0 572.2,439.5 584.0,439.5 C605.5,439.5 603.5,472.0 623.0,472.0 C635.6,472.0 632.5,465.0 644.0,465.0 C666.0,465.0 664.0,500.0 684.0,500.0 C698.4,500.0 694.8,492.0 708.0,492.0 C729.7,492.0 727.8,527.0 747.5,527.0 C759.2,527.0 756.3,519.5 767.0,519.5 C793.4,519.5 791.0,555.0 815.0,555.0 C825.8,555.0 823.1,548.0 833.0,548.0 L860,560 L860,100.4 L545,100.4 C540,100.6 536,101.2 532,102.6 L149.6,247.2 C144.6,249.0 139.5,254.5 138.5,257.5 Z" fill="url(#stripes)"/>
<path d="M138.5,257.5 C140.5,252.5 141.6,248.0 146.6,248.0 C166.0,248.0 164.2,277.5 181.8,277.5 C190.3,277.5 188.2,270.0 196.0,270.0 C216.6,270.0 214.8,297.0 233.5,297.0 C244.0,297.0 241.4,289.0 251.0,289.0 C269.4,289.0 267.8,317.6 284.5,317.6 C296.2,317.6 293.3,310.0 304.0,310.0 C322.4,310.0 320.8,340.6 337.5,340.6 C348.6,340.6 345.8,331.5 356.0,331.5 C376.6,331.5 374.8,364.0 393.5,364.0 C405.2,364.0 402.3,356.6 413.0,356.6 C432.0,356.6 430.2,391.0 447.5,391.0 C461.6,391.0 458.1,384.6 471.0,384.6 C490.2,384.6 488.5,420.5 506.0,420.5 C518.0,420.5 515.0,415.0 526.0,415.0 C546.1,415.0 544.2,448.0 562.5,448.0 C575.4,448.0 572.2,439.5 584.0,439.5 C605.5,439.5 603.5,472.0 623.0,472.0 C635.6,472.0 632.5,465.0 644.0,465.0 C666.0,465.0 664.0,500.0 684.0,500.0 C698.4,500.0 694.8,492.0 708.0,492.0 C729.7,492.0 727.8,527.0 747.5,527.0 C759.2,527.0 756.3,519.5 767.0,519.5 C793.4,519.5 791.0,555.0 815.0,555.0 C825.8,555.0 823.1,548.0 833.0,548.0 L860,560 L860,100.4 L545,100.4 C540,100.6 536,101.2 532,102.6 L149.6,247.2 C144.6,249.0 139.5,254.5 138.5,257.5 Z" fill="url(#hl)" mask="url(#hm)"/>
<path d="M177.8,277.2 L181.8,277.5 C190.3,277.5 188.2,270.0 196.0,270.0 M229.5,296.7 L233.5,297.0 C244.0,297.0 241.4,289.0 251.0,289.0 M280.5,317.3 L284.5,317.6 C296.2,317.6 293.3,310.0 304.0,310.0 M333.5,340.3 L337.5,340.6 C348.6,340.6 345.8,331.5 356.0,331.5 M389.5,363.7 L393.5,364.0 C405.2,364.0 402.3,356.6 413.0,356.6 M443.5,390.7 L447.5,391.0 C461.6,391.0 458.1,384.6 471.0,384.6 M502.0,420.2 L506.0,420.5 C518.0,420.5 515.0,415.0 526.0,415.0 M558.5,447.7 L562.5,448.0 C575.4,448.0 572.2,439.5 584.0,439.5 M619.0,471.7 L623.0,472.0 C635.6,472.0 632.5,465.0 644.0,465.0 M680.0,499.7 L684.0,500.0 C698.4,500.0 694.8,492.0 708.0,492.0 M743.5,526.7 L747.5,527.0 C759.2,527.0 756.3,519.5 767.0,519.5 M811.0,554.7 L815.0,555.0 C825.8,555.0 823.1,548.0 833.0,548.0" fill="none" stroke="#a9aaa4" stroke-width="4.2" stroke-linecap="round" clip-path="url(#sheetclip)"/>
<path d="M138.5,257.5 C140.5,252.5 141.6,248.0 146.6,248.0 C166.0,248.0 164.2,277.5 181.8,277.5 C190.3,277.5 188.2,270.0 196.0,270.0 C216.6,270.0 214.8,297.0 233.5,297.0 C244.0,297.0 241.4,289.0 251.0,289.0 C269.4,289.0 267.8,317.6 284.5,317.6 C296.2,317.6 293.3,310.0 304.0,310.0 C322.4,310.0 320.8,340.6 337.5,340.6 C348.6,340.6 345.8,331.5 356.0,331.5 C376.6,331.5 374.8,364.0 393.5,364.0 C405.2,364.0 402.3,356.6 413.0,356.6 C432.0,356.6 430.2,391.0 447.5,391.0 C461.6,391.0 458.1,384.6 471.0,384.6 C490.2,384.6 488.5,420.5 506.0,420.5 C518.0,420.5 515.0,415.0 526.0,415.0 C546.1,415.0 544.2,448.0 562.5,448.0 C575.4,448.0 572.2,439.5 584.0,439.5 C605.5,439.5 603.5,472.0 623.0,472.0 C635.6,472.0 632.5,465.0 644.0,465.0 C666.0,465.0 664.0,500.0 684.0,500.0 C698.4,500.0 694.8,492.0 708.0,492.0 C729.7,492.0 727.8,527.0 747.5,527.0 C759.2,527.0 756.3,519.5 767.0,519.5 C793.4,519.5 791.0,555.0 815.0,555.0 C825.8,555.0 823.1,548.0 833.0,548.0" fill="none" stroke="#e6e6e2" stroke-width="2.4" clip-path="url(#sheetclip)"/>
<g stroke="#050505" stroke-width="2.3" stroke-linecap="round" fill="none">
<line x1="90" y1="148.4" x2="440.3" y2="148.4"/>
<line x1="139" y1="268.9" x2="241.3" y2="268.9"/>
<line x1="253.45" y1="283.3" x2="253.45" y2="349"/>
<line x1="311.3" y1="297" x2="311.3" y2="516"/>
<line x1="384" y1="328" x2="384" y2="397"/>
<line x1="490.75" y1="377.5" x2="490.75" y2="478"/>
<line x1="592.8" y1="441.6" x2="592.8" y2="478"/>
<line x1="687" y1="443.4" x2="687" y2="539"/>
</g>
<g fill="#1b2050">
<circle cx="68" cy="146.5" r="22.4"/>
<circle cx="117.5" cy="268" r="22.4"/>
<circle cx="251.5" cy="370.5" r="22.5"/>
<circle cx="309.9" cy="538.5" r="23.1"/>
<circle cx="383.7" cy="418.6" r="22.4"/>
<circle cx="489.2" cy="500" r="22.9"/>
<circle cx="591.3" cy="499.4" r="22.7"/>
<circle cx="685.4" cy="564.5" r="26.3"/>
</g>
<g fill="none" stroke="#fbfbfc" stroke-width="1.4" stroke-linecap="round" stroke-linejoin="round">
<path d="M53.6,142 A11.6,4.9 0 0 1 76.8,142 C77.3,143.2 77,144.6 75.8,145.8"/>
<path d="M53.6,142 C53.6,145 58,147.4 65,147.4 C72,147.4 78,146.5 82.4,143.8"/>
<path d="M53.6,142 L53.6,148.4 C53.8,153.2 60,155.4 66.5,155.4 C74.5,155.4 82.3,152.6 82.4,147.6 L82.4,141.8"/>
<path d="M61.3,146.8 L61.3,142.4 A3.9,2.3 0 0 1 69.1,142.4 L69.1,146.8"/>
<path d="M61.3,142.4 A3.9,2.3 0 0 0 69.1,142.4"/>
<path d="M56.5,150.8 L78.5,150.8" stroke-dasharray="1 1.6" stroke-width="1.2" stroke-linecap="butt"/>
</g>
<g fill="#fbfbfc">
<path d="M112.1,250.9 L128.7,251.9 L127.6,265.6 C127.3,267.2 125.8,267.6 124,268 L121.2,268.6 C120.6,270 120.4,272 120.2,275 C120.1,278 119.6,283 118.8,285.4 C118,287.2 113.8,287.4 113.2,285.4 C112.6,283 113.4,278 114.3,275 C115,272.5 115.4,270 115.3,268.4 L113,267.6 C111.6,267.2 111.1,266.4 111.2,264.8 Z"/>
</g>
<g stroke="#1b2050" stroke-width="0.55" fill="none">
<path d="M112.3,260 L127.8,261.1"/><path d="M112.1,262.6 L127.6,263.7"/>
</g>
<ellipse cx="115.4" cy="282.6" rx="1.1" ry="1.6" fill="#1b2050"/>
<g fill="#1b2050" stroke="#fbfbfc" stroke-width="1.15"><rect x="-4.1" y="-22.75" width="8.2" height="24" rx="1.6" transform="translate(244,379.75) rotate(90)"/><rect x="-4.1" y="-22.75" width="8.2" height="24" rx="1.6" transform="translate(244,379.75) rotate(60)"/><rect x="-4.1" y="-22.75" width="8.2" height="24" rx="1.6" transform="translate(244,379.75) rotate(30)"/><rect x="-4.1" y="-22.75" width="8.2" height="28" rx="1.6" transform="translate(244,379.75) rotate(0)"/><circle cx="244" cy="379.9" r="1.9"/></g>
<g fill="none" stroke="#fbfbfc" stroke-width="1.3" stroke-linecap="butt">
<path d="M325.2,548.4 L296.2,548.4 L312.0,521.0"/>
<path d="M306.2,548.4 A10,10 0 0 0 301.2,539.8"/>
<path d="M312.6,528.3 A25.5,25.5 0 0 1 321.3,544.2"/>
</g>
<g fill="#fbfbfc">
<path d="M310.5,525.2 L316.6,526.2 L313.2,530.3 Z"/>
<path d="M318.3,542.6 L324.4,542.2 L321.4,547.0 Z"/>
</g>
<path d="M364.2,421.7 L392.4,401.1 L380.9,411.1 L382.7,414.8 L364.2,423.2 Z" fill="#c4c4c6"/>
<path d="M380.9,411.1 L392.4,401.1 Q403.8,409.2 402.9,423.2 L392.1,430.1 Z" fill="#fbfbfc"/>
<g fill="#fbfbfc"><rect x="483.65" y="489.2" width="1.5" height="22.4"/><rect x="486.75" y="489.2" width="1.5" height="22.4"/><rect x="490.05" y="489.2" width="1.5" height="22.4"/><rect x="493.35" y="489.2" width="1.5" height="22.4"/></g>
<g fill="none" stroke="#fbfbfc" stroke-width="1.5" stroke-linecap="round" stroke-linejoin="round">
<path d="M468.8,500.4 L481.6,500.4 M478.2,496.8 L481.8,500.4 L478.2,504"/>
<path d="M509.8,500.4 L497,500.4 M500.4,496.8 L496.8,500.4 L500.4,504"/>
</g>
<g fill="none" stroke="#fbfbfc" stroke-width="1.7" stroke-linecap="round">
<path d="M591.1,485.2 C588.5,490 583,495.5 582,502 C580.8,509.5 585.5,515.3 591.2,515.3 C597,515.3 601.4,509.5 600.3,502 C599.3,495.5 593.7,490 591.1,485.2 Z"/>
<path d="M585,504.2 C584.8,508.4 587.4,511.6 590.6,512.2"/>
</g>
<path d="M666.3,561.4 L685.4,546 L704,561.4" fill="none" stroke="#fbfbfc" stroke-width="2.1"/>
<path d="M670,561 L685.4,549.4 L700.2,561 L700.2,580.8 L670,580.8 Z" fill="#fbfbfc"/>
<g font-family="Liberation Sans" font-size="16.2" fill="#222" stroke="#222" stroke-width="0.22" opacity="0.995"><text transform="translate(45.50,193.90) scale(1.1972,1)">Available in cut</text><text transform="translate(45.59,213.80) scale(1.2132,1)">lengths of up</text><text transform="translate(46.00,234.80) scale(1.2250,1)">to 6m</text><text transform="translate(96.71,310.70) scale(1.0938,1)">PVC Plastisol</text><text transform="translate(96.32,331.25) scale(1.1806,1)">Coating</text><text transform="translate(224.54,416.00) scale(1.0579,1)">11 Colours</text><text transform="translate(226.00,436.90) scale(1.1677,1)">Available</text><text transform="translate(356.02,462.50) scale(1.2305,1)">Matching</text><text transform="translate(356.37,481.90) scale(1.1324,1)">Flashings</text><text transform="translate(356.50,502.75) scale(1.1692,1)">Available</text><text transform="translate(462.25,547.75) scale(1.2500,1)">0.7mm</text><text transform="translate(463.75,568.50) scale(1.1201,1)">Thickness</text><text transform="translate(565.04,546.00) scale(1.2119,1)">Dripstop</text><text transform="translate(565.60,566.90) scale(1.1600,1)">Available</text><text transform="translate(283.14,586.50) scale(1.2615,1)">Minimum Pitch</text><text transform="translate(282.73,607.00) scale(1.1219,1)">10 degrees</text><text transform="translate(658.61,614.50) scale(1.1440,1)">Roof Or Side</text><text transform="translate(658.18,634.30) scale(1.2242,1)">Cladding</text><text transform="translate(659.40,655.10) scale(1.2385,1)">Application</text></g>
</svg>
</body></html>
